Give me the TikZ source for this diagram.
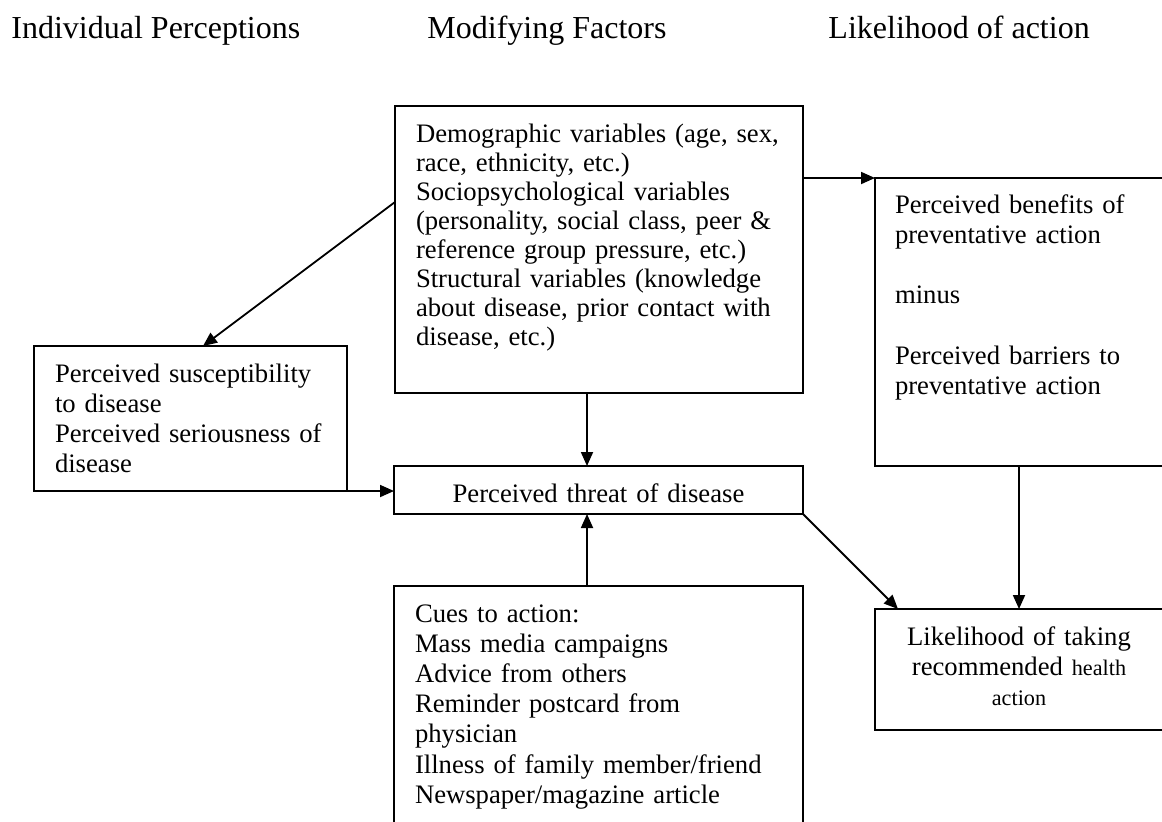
\documentclass[tikz,border=0pt]{standalone}
\usepackage{fontspec}
\setmainfont{Liberation Serif}
\usetikzlibrary{arrows.meta}
\tikzset{
	boite/.style={draw,line width=0.8pt,inner ysep=0pt,outer sep=0pt,anchor=north west,font=\fontsize{12}{13.6}\selectfont},
	titre/.style={inner sep=0pt,anchor=base west,font=\fontsize{14.4}{17}\selectfont},
	fleche/.style={line width=0.8pt,-{Triangle[length=6.3pt,width=5.4pt]}}
}
\begin{document}
\begin{tikzpicture}[x=0.45pt,y=-0.45pt]
		\useasboundingbox (0,0) rectangle (1162,821);
		\clip (0,0) rectangle (1162,821);

		% Titres
		\node[titre] (titreA) at (11,38) {Individual Perceptions};
		\node[titre] (titreB) at (427,38) {Modifying Factors};
		\node[titre] (titreC) at (828,38) {Likelihood of action};

		% Boites
		\node[boite,inner xsep=9.45pt,text width=164.7pt,text height=16.2pt,text depth=112.95pt,align=left,
			font=\fontsize{12}{13.1}\selectfont] (mod) at (395,106)
			{Demographic variables (age, sex,\\race, ethnicity, etc.)\\Sociopsychological variables\\(personality, social class, peer \&\\reference group pressure, etc.)\\Structural variables (knowledge\\about disease, prior contact with\\disease, etc.)};
		\node[boite,inner xsep=9.45pt,text width=121.95pt,text height=16.2pt,text depth=49.05pt,align=left] (sus) at (34,346)
			{Perceived susceptibility\\to disease\\Perceived seriousness of\\disease};
		\node[boite,inner xsep=0pt,text width=184.05pt,text height=16.2pt,text depth=5.4pt,align=center] (threat) at (394,466)
			{Perceived threat of disease};
		\node[boite,inner xsep=9.45pt,text width=165.15pt,text height=16.2pt,text depth=98.1pt,align=left] (cues) at (394,586)
			{Cues to action:\\Mass media campaigns\\Advice from others\\Reminder postcard from\\physician\\Illness of family member/friend\\Newspaper/magazine article};
		\node[boite,inner xsep=9pt,text width=111.6pt,text height=15.75pt,text depth=113.85pt,align=left] (benef) at (875,178)
			{Perceived benefits of\\preventative action\\[13.6pt]minus\\[13.6pt]Perceived barriers to\\preventative action};
		\node[boite,inner xsep=4pt,text width=121.6pt,text height=16.2pt,text depth=38.25pt,align=center] (likely) at (875,609)
			{Likelihood of taking\\recommended {\fontsize{10}{13.6}\selectfont health}\\{\fontsize{10}{13.6}\selectfont action}};

		% Fleches
		\draw[fleche] ([shift={(0,96)}]mod.north west) -- ([shift={(169,0)}]sus.north west);
		\draw[fleche] ([shift={(0,72)}]mod.north east) -- (benef.north west);
		\draw[fleche] ([shift={(192,0)}]mod.south west) -- ([shift={(193,0)}]threat.north west);
		\draw[fleche] (sus.south east) -- (threat.west |- sus.south east);
		\draw[fleche] ([shift={(193,0)}]cues.north west) -- ([shift={(193,0)}]threat.south west);
		\draw[fleche] (threat.south east) -- ([shift={(23,0)}]likely.north west);
		\draw[fleche] (benef.south) -- (likely.north);
\end{tikzpicture}
\end{document}
